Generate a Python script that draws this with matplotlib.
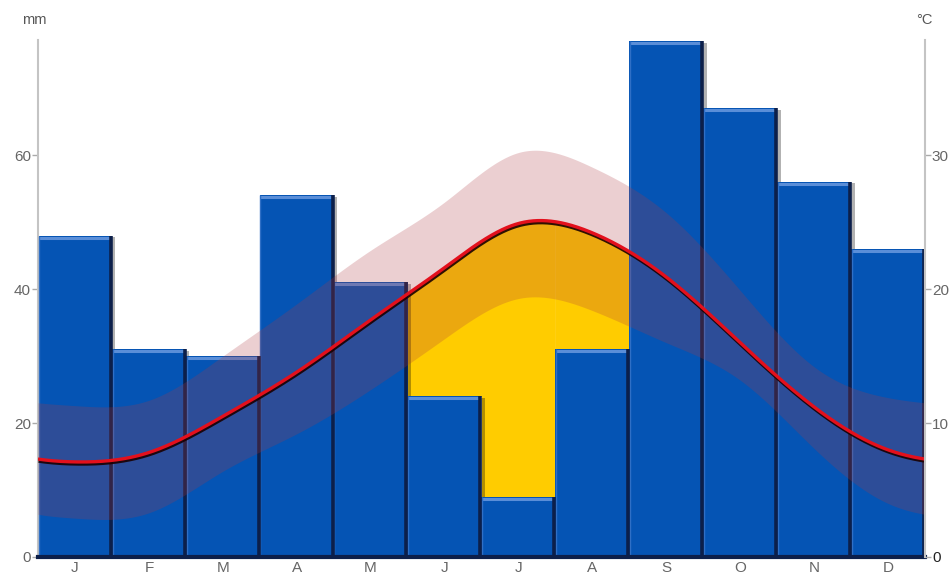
import numpy as np
import matplotlib
matplotlib.use("Agg")
import matplotlib.pyplot as plt
import matplotlib.patheffects as pe

plt.rcParams['font.family'] = ['Liberation Sans', 'DejaVu Sans']

months = ["J", "F", "M", "A", "M", "J", "J", "A", "S", "O", "N", "D"]
precip_mm = [48, 31, 30, 54, 41, 24, 9, 31, 77, 67, 56, 46]
temp_mean = [7.1, 7.8, 10.5, 13.8, 17.7, 21.6, 24.9, 24.2, 20.9, 16.0, 11.2, 8.0]
temp_max = [11.3, 11.7, 15.0, 18.9, 22.9, 26.5, 30.2, 29.1, 25.7, 19.9, 14.2, 11.9]
temp_min = [2.9, 3.3, 6.4, 9.2, 12.5, 16.3, 19.3, 18.4, 16.0, 13.2, 8.1, 4.0]
mm_ticks = [0, 20, 40, 60]
c_ticks = [0, 10, 20, 30]

BLUE = "#0554b4"
EDGE = "#0c1f4a"
YELLOW = "#ffcc00"
BAND = (174 / 255, 56 / 255, 64 / 255)
GREY = "#666666"


def periodic_spline(vals, xs):
    # smooth periodic cubic curve through the monthly values (knots at month centres)
    y = np.asarray(vals, float)
    n = len(y)
    A = np.zeros((n, n))
    for i in range(n):
        A[i, i] = 4
        A[i, (i - 1) % n] = 1
        A[i, (i + 1) % n] = 1
    rhs = 6 * (np.roll(y, -1) - 2 * y + np.roll(y, 1))
    M = np.linalg.solve(A, rhs)
    t = xs - 0.5
    i = np.floor(t).astype(int)
    u = t - i
    i0 = i % n
    i1 = (i + 1) % n
    return ((1 - u) * y[i0] + u * y[i1]
            + ((1 - u) ** 3 - (1 - u)) * M[i0] / 6 + (u ** 3 - u) * M[i1] / 6)


fig = plt.figure(figsize=(9.51, 5.74), dpi=100)
ax = fig.add_axes([38 / 951, 17 / 574, 887 / 951, 517 / 574])
x = np.arange(12) + 0.5

xs = np.linspace(0, 12, 1201)
t_mean = periodic_spline(temp_mean, xs) * 2
t_max = periodic_spline(temp_max, xs) * 2
t_min = periodic_spline(temp_min, xs) * 2

# dry period: between the bar top and the temperature curve
for i, p in enumerate(precip_mm):
    m = (xs >= i) & (xs <= i + 1)
    ax.fill_between(xs[m], p, t_mean[m], where=t_mean[m] > p, color=YELLOW,
                    linewidth=0, zorder=1.5)

ax.bar(x, precip_mm, width=1.0, color=BLUE, linewidth=0, zorder=2,
       path_effects=[pe.SimplePatchShadow(offset=(2.5, -1), shadow_rgbFace="black", alpha=0.3),
                     pe.Normal()])
# bevel look: light top edge, thin light left edge, dark right edge
ax.hlines(np.array(precip_mm) - 0.3, x - 0.49, x + 0.47, color="#5a8ed8", lw=2.2, zorder=3)
ax.vlines(x - 0.49, 0, precip_mm, color="#2f6fc6", lw=1, zorder=3)
ax.vlines(x + 0.485, 0, precip_mm, color=EDGE, lw=2.6, zorder=3)

ax.fill_between(xs, t_min, t_max, color=BAND, alpha=0.24, linewidth=0, zorder=5)

ax.plot(xs, t_mean, color="#e3101c", lw=2.4, zorder=6, solid_capstyle="butt",
        path_effects=[pe.SimpleLineShadow(offset=(0.4, -1.5), shadow_color="#1a0000", alpha=0.9),
                      pe.Normal()])

ax.set_xlim(0, 12)
ax.set_ylim(0, 77.2)
ax.set_xticks(x)
ax.set_xticklabels(months)
ax.set_yticks(mm_ticks)
ax.tick_params(axis="x", length=0, pad=3, labelsize=11, labelcolor=GREY)
ax.tick_params(axis="y", length=4, width=1, color="#aaaaaa", pad=1, labelsize=11, labelcolor=GREY)

for s in ["top", "right"]:
    ax.spines[s].set_visible(False)
ax.spines["left"].set_color("#c4c4c4")
ax.spines["left"].set_linewidth(1.5)
ax.spines["bottom"].set_color(EDGE)
ax.spines["bottom"].set_linewidth(3)
ax.spines["bottom"].set_zorder(7)

ax2 = ax.twinx()
ax2.set_ylim(0, 77.2 / 2)
ax2.set_yticks(c_ticks)
ax2.tick_params(axis="y", length=4, width=1, color="#aaaaaa", pad=1, labelsize=11, labelcolor=GREY)
for s in ["top", "left", "bottom"]:
    ax2.spines[s].set_visible(False)
ax2.spines["right"].set_color("#c4c4c4")
ax2.spines["right"].set_linewidth(1.5)
ax2.get_yticklabels()[0].set_color("#222222")

fig.text(22 / 951, 1 - 20 / 574, "mm", fontsize=10.5, color="#555555", va="center", ha="left")
fig.text(916 / 951, 1 - 20 / 574, "°C", fontsize=10.5, color="#555555", va="center", ha="left")

fig.savefig("out.png", dpi=100)
